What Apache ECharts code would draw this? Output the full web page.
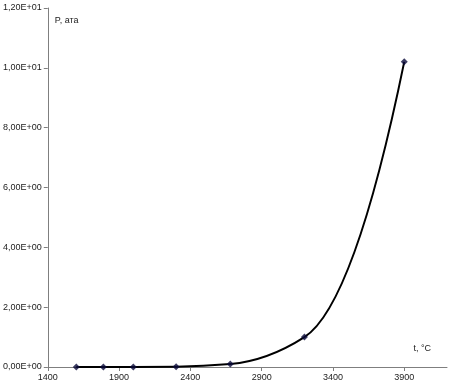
<!DOCTYPE html>
<html><head><meta charset="utf-8">
<script src="https://cdn.jsdelivr.net/npm/echarts@6/dist/echarts.min.js"></script>
<style>html,body{margin:0;padding:0;background:#fff}#c{width:454px;height:388px}</style>
</head><body><div id="c"></div>
<script>
const temps = [1600, 1790, 2000, 2300, 2680, 3200, 3900];
const pressures = [0, 0, 0, 0.01, 0.1, 1.0, 10.2];
const xTicks = [1400, 1900, 2400, 2900, 3400, 3900];
const yTicks = [0, 2, 4, 6, 8, 10, 12];
const yTickLabels = ['0,00E+00','2,00E+00','4,00E+00','6,00E+00','8,00E+00','1,00E+01','1,20E+01'];

// monotone cubic Hermite tangents (rendering of a smoothed line through the data points)
function tangents(xs, ys) {
  const n = xs.length, s = [], m = new Array(n).fill(0);
  for (let i = 0; i < n - 1; i++) s.push((ys[i+1]-ys[i])/(xs[i+1]-xs[i]));
  for (let i = 1; i < n - 1; i++) {
    m[i] = (s[i-1]*s[i] > 0) ? 2*s[i-1]*s[i]/(s[i-1]+s[i]) : 0;
  }
  m[0] = Math.max(0, 2*s[0] - m[1]);
  m[n-1] = Math.max(0, 2*s[n-2] - m[n-2]);
  return m;
}

const chart = echarts.init(document.getElementById('c'));
const txt = {color: '#222', fontFamily: 'Liberation Sans', fontSize: 9};
chart.setOption({
  animation: false,
  grid: {left: 43, right: 7, top: 8, bottom: 21},
  xAxis: {
    type: 'value', min: 1400, max: 4200,
    axisLine: {show: true, lineStyle: {color: '#7f7f7f', width: 1}},
    axisTick: {show: true, customValues: xTicks, length: 4, lineStyle: {color: '#7f7f7f'}},
    axisLabel: Object.assign({customValues: xTicks, margin: 6, formatter: v => String(v)}, txt),
    splitLine: {show: false},
    name: 't, °C', nameLocation: 'end', nameGap: 0,
    nameTextStyle: Object.assign({align: 'right', verticalAlign: 'bottom', padding: [0, 16, 14, 0]}, txt)
  },
  yAxis: {
    type: 'value', min: 0, max: 12, interval: 2,
    axisLine: {show: true, lineStyle: {color: '#7f7f7f', width: 1}},
    axisTick: {show: true, length: 4, lineStyle: {color: '#7f7f7f'}},
    axisLabel: Object.assign({margin: 6, formatter: v => yTickLabels[yTicks.indexOf(v)] || ''}, txt),
    splitLine: {show: false},
    name: 'P, ата', nameLocation: 'end', nameGap: 0,
    nameTextStyle: Object.assign({align: 'left', verticalAlign: 'top', padding: [8, 0, 0, 7]}, txt)
  },
  series: [{
    type: 'custom',
    data: [[temps[0], pressures[0]]],
    silent: true,
    renderItem: function (params, api) {
      const m = tangents(temps, pressures);
      let p = api.coord([temps[0], pressures[0]]);
      let d = 'M' + p[0] + ' ' + p[1];
      for (let i = 0; i < temps.length - 1; i++) {
        const h = temps[i+1] - temps[i];
        const c1 = api.coord([temps[i] + h/3, pressures[i] + m[i]*h/3]);
        const c2 = api.coord([temps[i+1] - h/3, pressures[i+1] - m[i+1]*h/3]);
        const e = api.coord([temps[i+1], pressures[i+1]]);
        d += ' C' + c1[0] + ' ' + c1[1] + ' ' + c2[0] + ' ' + c2[1] + ' ' + e[0] + ' ' + e[1];
      }
      return {type: 'path', shape: {pathData: d}, style: {fill: null, stroke: '#000', lineWidth: 2}};
    },
    z: 2
  }, {
    type: 'scatter',
    data: temps.map((t, i) => [t, pressures[i]]),
    symbol: 'diamond', symbolSize: 7,
    itemStyle: {color: '#0a0a3a'},
    z: 3
  }]
});
</script></body></html>
